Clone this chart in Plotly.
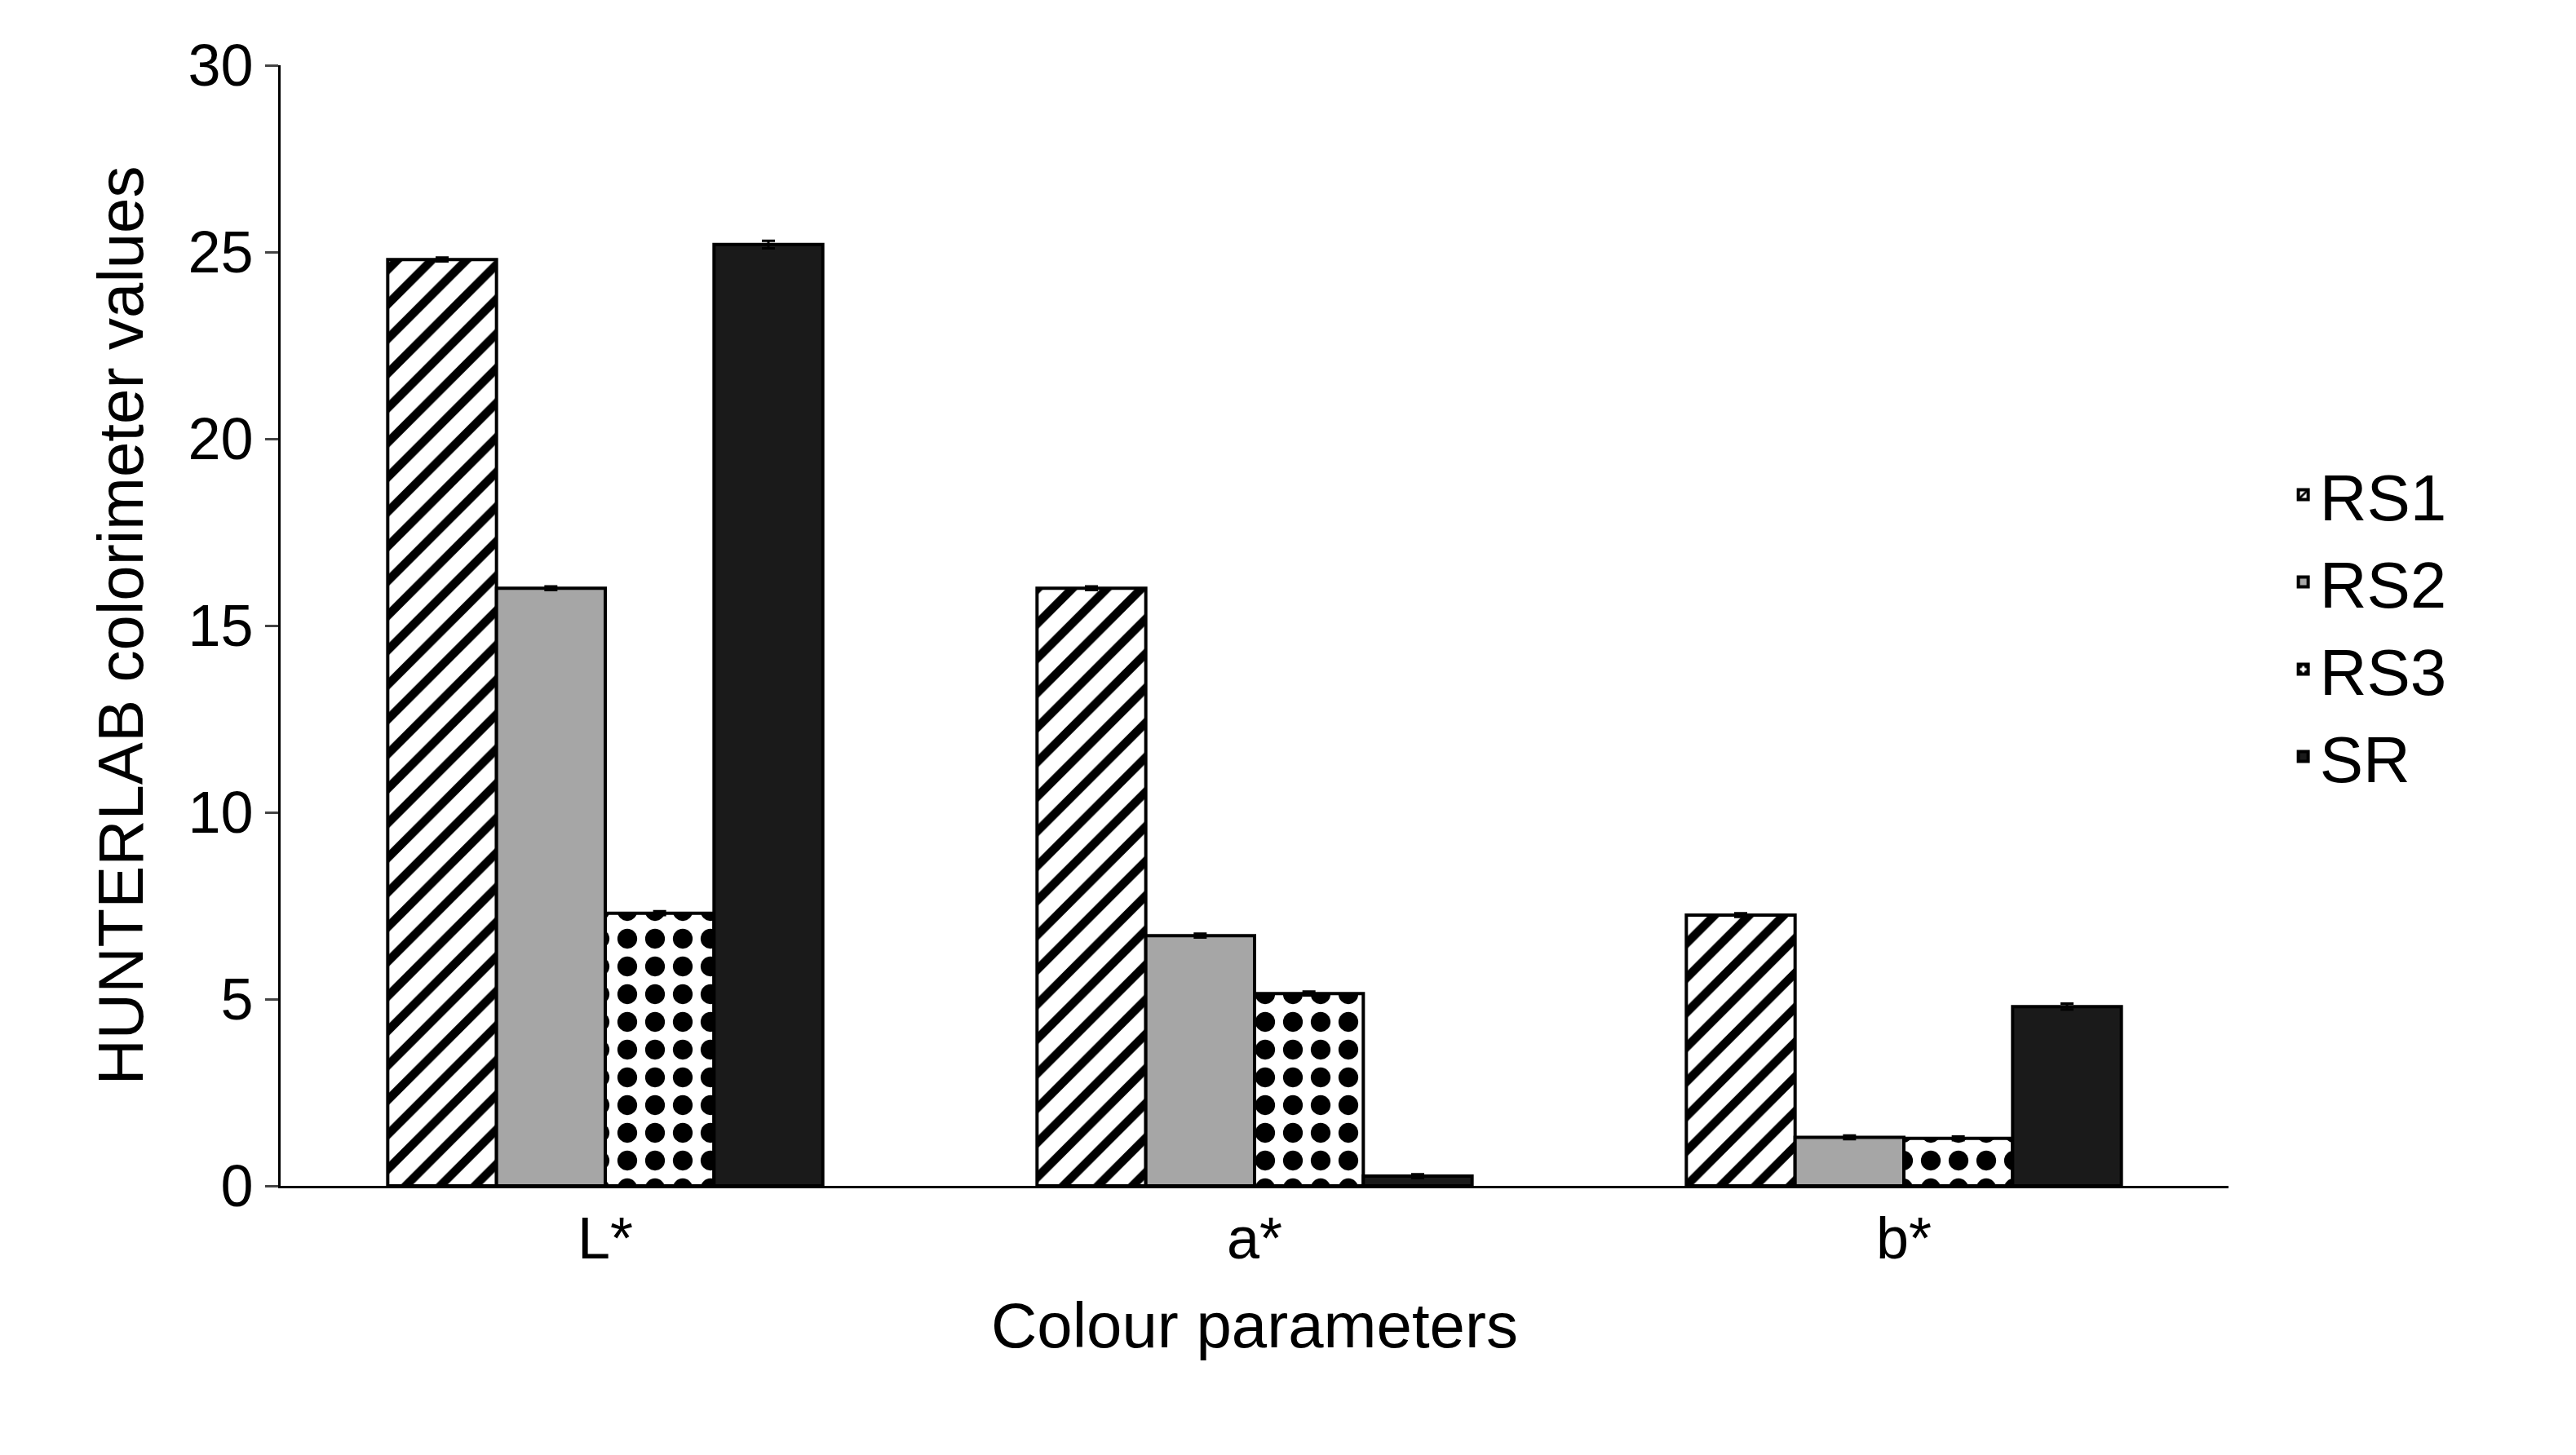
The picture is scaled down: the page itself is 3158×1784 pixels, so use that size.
import plotly.graph_objects as go

categories = ["L*", "a*", "b*"]
series = ["RS1", "RS2", "RS3", "SR"]
rs1 = [24.8, 16.0, 7.25]
rs2 = [16.0, 6.7, 1.3]
rs3 = [7.3, 5.15, 1.27]
sr = [25.2, 0.26, 4.8]
err = [[0.05, 0.05, 0.05], [0.05, 0.05, 0.05], [0.05, 0.05, 0.05], [0.1, 0.05, 0.08]]

styles = [
    dict(color="white", pattern=dict(shape="/", fgcolor="black", bgcolor="white", fgopacity=1, size=30, solidity=0.35)),
    dict(color="#a6a6a6"),
    dict(color="white", pattern=dict(shape=".", fgcolor="black", bgcolor="white", fgopacity=1, size=34, solidity=0.4)),
    dict(color="#1a1a1a"),
]

fig = go.Figure()
for name, vals, st, e in zip(series, [rs1, rs2, rs3, sr], styles, err):
    fig.add_trace(go.Bar(
        name=name, x=categories, y=vals,
        marker=dict(**st, line=dict(color="black", width=4)),
        error_y=dict(type="data", array=e, color="black", thickness=3, width=8),
    ))

font = "Liberation Sans, Arial, sans-serif"
fig.update_layout(
    width=3158, height=1784, barmode="group", bargap=0.33, bargroupgap=0,
    plot_bgcolor="white", paper_bgcolor="white",
    margin=dict(l=336, r=434, t=72, b=338),
    font=dict(family=font, size=72, color="black"),
    xaxis=dict(showline=True, linecolor="black", linewidth=3, ticks="",
               title=dict(text="Colour parameters", font=dict(size=78), standoff=40),
               tickfont=dict(size=72)),
    yaxis=dict(range=[0, 30], dtick=5, showline=True, linecolor="black", linewidth=3,
               ticks="outside", ticklen=16, tickwidth=3, showgrid=False, zeroline=False,
               title=dict(text="HUNTERLAB colorimeter values", font=dict(size=78), standoff=30),
               tickfont=dict(size=72)),
    legend=dict(x=1.03, y=0.5, yanchor="middle", font=dict(size=80), itemwidth=30,
                tracegroupgap=30),
)
fig.write_html("out.html")
